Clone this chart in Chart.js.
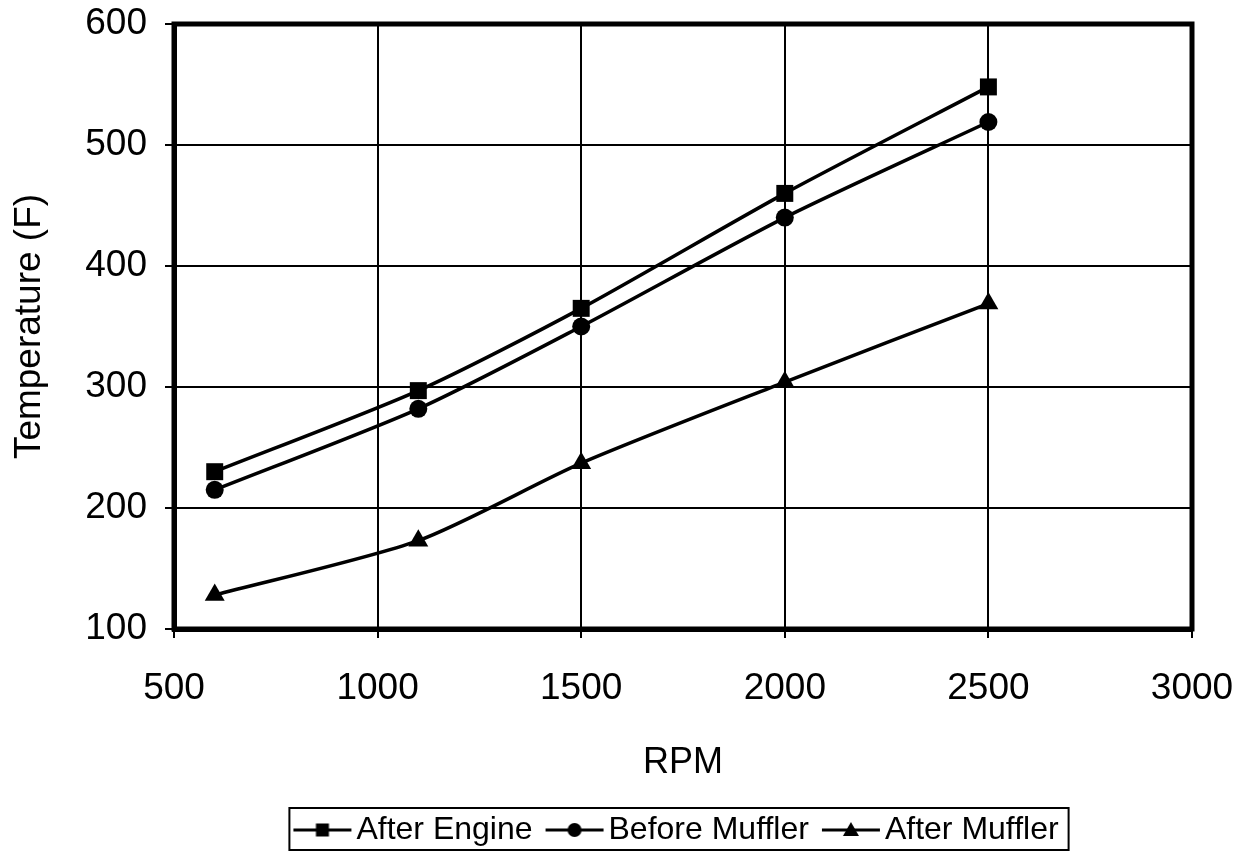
<!DOCTYPE html>
<html><head><meta charset="utf-8">
<script src="https://cdn.jsdelivr.net/npm/chart.js@4"></script>
<style>html,body{margin:0;padding:0;background:#fff}#wrap{width:1244px;height:868px}</style>
</head><body><div id="wrap"><canvas id="c" width="1244" height="868"></canvas></div>
<script>
const rpm = [600, 1100, 1500, 2000, 2500];
const afterEngine = [230, 297, 365, 460, 548];
const beforeMuffler = [215, 282, 350, 440, 519];
const afterMuffler = [128, 173, 237, 304, 369];
const seriesNames = ['After Engine', 'Before Muffler', 'After Muffler'];
const xTicks = [500, 1000, 1500, 2000, 2500, 3000];
const yTicks = [100, 200, 300, 400, 500, 600];

const FONT = "'Liberation Sans', Arial, sans-serif";

function legendSymbol(style) {
  const c = document.createElement('canvas');
  c.width = 80; c.height = 22;
  const g = c.getContext('2d');
  g.strokeStyle = '#000'; g.lineWidth = 3;
  g.beginPath(); g.moveTo(18, 11); g.lineTo(76, 11); g.stroke();
  g.fillStyle = '#000';
  const cx = 47, cy = 11;
  if (style === 'rect') { g.fillRect(cx - 6.5, cy - 6.5, 13, 13); }
  else if (style === 'circle') { g.beginPath(); g.arc(cx, cy, 7, 0, Math.PI * 2); g.fill(); }
  else { g.beginPath(); g.moveTo(cx, cy - 8); g.lineTo(cx + 8, cy + 6); g.lineTo(cx - 8, cy + 6); g.closePath(); g.fill(); }
  return c;
}
const styles = ['rect', 'circle', 'triangle'];
const radii = [12, 9, 11.5];
const symbols = styles.map(legendSymbol);

function pts(vals) { return rpm.map((x, i) => ({ x: x, y: vals[i] })); }

const frame = {
  id: 'frame',
  afterLayout(chart) {
    const lg = chart.legend;
    const dx = 674.5 - (lg.left + lg.right) / 2;
    lg.left += dx; lg.right += dx;
  },
  afterDraw(chart) {
    const a = chart.chartArea, ctx = chart.ctx;
    ctx.save();
    ctx.strokeStyle = '#000'; ctx.lineWidth = 5;
    ctx.strokeRect(a.left, a.top, a.right - a.left, a.bottom - a.top);
    const hb = chart.legend.legendHitBoxes;
    if (hb && hb.length) {
      let l = Infinity, r = -Infinity, t = Infinity, b = -Infinity;
      hb.forEach(h => { l = Math.min(l, h.left); r = Math.max(r, h.left + h.width); t = Math.min(t, h.top); b = Math.max(b, h.top + h.height); });
      ctx.lineWidth = 2;
      ctx.strokeRect(l - 1, t - 6, r - l + 11, b - t + 10);
    }
    ctx.restore();
  }
};

new Chart(document.getElementById('c'), {
  type: 'line',
  data: {
    datasets: [afterEngine, beforeMuffler, afterMuffler].map((v, i) => ({
      label: seriesNames[i],
      data: pts(v),
      borderColor: '#000',
      backgroundColor: '#000',
      borderWidth: 3.5,
      pointStyle: styles[i],
      pointRadius: radii[i],
      pointBackgroundColor: '#000',
      pointBorderColor: '#000',
      pointBorderWidth: 0,
      tension: 0.25,
      fill: false
    }))
  },
  options: {
    responsive: false,
    animation: false,
    devicePixelRatio: 1,
    layout: { padding: { left: 0, right: 52, top: 24, bottom: 12 } },
    scales: {
      x: {
        type: 'linear', min: 500, max: 3000,
        afterBuildTicks: s => { s.ticks = xTicks.map(v => ({ value: v })); },
        afterFit: s => { s.height = 175; s.paddingLeft = 0; s.paddingRight = 0; },
        ticks: { color: '#000', font: { family: FONT, size: 37 }, padding: 29, maxRotation: 0, callback: v => String(v) },
        grid: { color: '#000', lineWidth: 2, tickLength: 9 },
        border: { color: '#000', width: 5 },
        title: { display: true, text: 'RPM', color: '#000', font: { family: FONT, size: 36 }, padding: { top: 0, bottom: 19 } }
      },
      y: {
        min: 100, max: 600,
        afterBuildTicks: s => { s.ticks = yTicks.map(v => ({ value: v })); },
        afterFit: s => { s.width = 174; s.paddingTop = 0; s.paddingBottom = 0; },
        ticks: { color: '#000', font: { family: FONT, size: 37 }, padding: 18, callback: v => String(v) },
        grid: { color: '#000', lineWidth: 2, tickLength: 9 },
        border: { color: '#000', width: 5 },
        title: { display: true, text: 'Temperature (F)', color: '#000', font: { family: FONT, size: 37 }, padding: { top: 8, bottom: 0 } }
      }
    },
    plugins: {
      tooltip: { enabled: false },
      legend: {
        position: 'bottom',
        labels: {
          usePointStyle: true,
          pointStyleWidth: 50,
          boxHeight: 22,
          padding: 10,
          color: '#000',
          font: { family: FONT, size: 32 },
          generateLabels(chart) {
            const items = Chart.defaults.plugins.legend.labels.generateLabels(chart);
            items.forEach((it, i) => { it.pointStyle = symbols[i]; it.lineWidth = 0; });
            return items;
          }
        }
      }
    }
  },
  plugins: [frame]
});
</script></body></html>
